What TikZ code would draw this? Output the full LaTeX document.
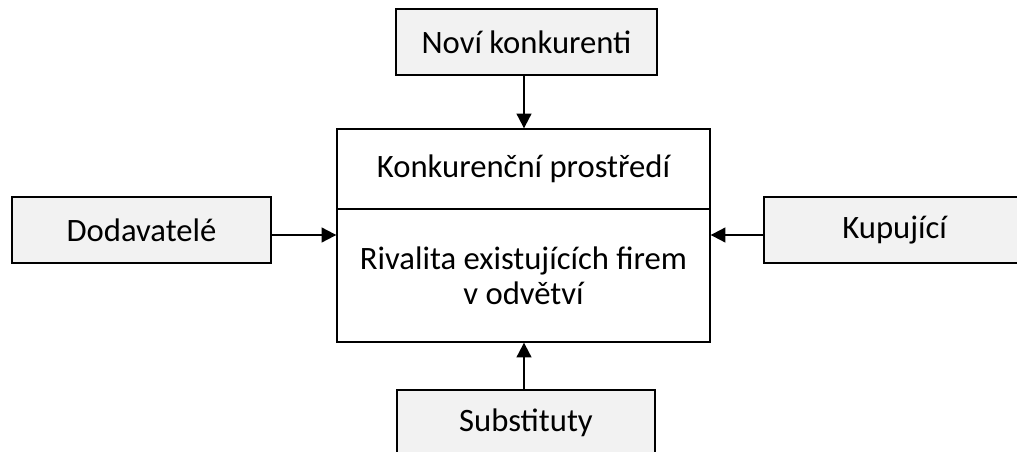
\documentclass[tikz,border=0pt]{standalone}
\usepackage{fontspec}
\setmainfont{Carlito}
\usetikzlibrary{arrows.meta}
\begin{document}
\begin{tikzpicture}[x=0.75pt,y=-0.75pt,
  every node/.style={font=\fontsize{24.5}{26}\selectfont, align=center, inner sep=0pt},
  graybox/.style={draw=black, line width=1pt, fill=black!5, rectangle},
  whitebox/.style={draw=black, line width=1pt, fill=white, rectangle},
  arr/.style={line width=1.5pt, -{Triangle[length=11pt,width=11pt]}}]
\useasboundingbox (0,0) rectangle (1017,452);
\clip (0,0) rectangle (1017,452);
\node[graybox, minimum width=195.75pt, minimum height=49.5pt] (top) at (526.5,42) {Noví konkurenti};
\node[whitebox, minimum width=279.75pt, minimum height=60pt] (env) at (523.5,169) {Konkurenční prostředí};
\node[whitebox, minimum width=279.75pt, minimum height=99.75pt] (rival) at (523.5,275.5) {\raisebox{-2pt}{\parbox{270pt}{\centering Rivalita existujících firem\\v odvětví}}};
\node[graybox, minimum width=194.25pt, minimum height=49.5pt] (left) at (141.5,230) {Dodavatelé};
\node[graybox, minimum width=199.5pt, minimum height=49.5pt] (right) at (897,230) {\hspace*{-3.5pt}Kupující};
\node[graybox, minimum width=193.5pt, minimum height=49.5pt] (bottom) at (526,423) {Substituty};
\coordinate (ta) at (524,75.5);
\coordinate (la) at (271,235);
\coordinate (ra) at (764,235);
\coordinate (ba) at (524,390);
\draw[arr] (ta) -- (ta |- env.north);
\draw[arr] (la) -- (la -| rival.west);
\draw[arr] (ra) -- (ra -| rival.east);
\draw[arr] (ba) -- (ba |- rival.south);
\end{tikzpicture}
\end{document}
